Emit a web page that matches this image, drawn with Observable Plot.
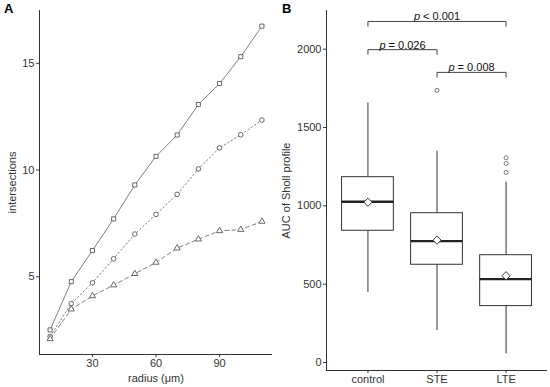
<!DOCTYPE html>
<html><head><meta charset="utf-8">
<script src="https://cdn.jsdelivr.net/npm/d3@7"></script>
<script src="https://cdn.jsdelivr.net/npm/@observablehq/plot@0.6"></script>
<style>
body{margin:0;background:#fff;font-family:"Liberation Sans",Arial,sans-serif;}
#wrap{position:relative;width:550px;height:387px;display:flex;}
.lab{position:absolute;font-weight:bold;font-size:13px;color:#000;}
</style></head><body>
<div id="wrap"><div class="lab" style="left:4px;top:1px">A</div><div class="lab" style="left:282px;top:1px">B</div><div id="pa"></div><div id="pb"></div></div>
<script>
// Panel A: Sholl intersections by radius
const radius = [10,20,30,40,50,60,70,80,90,100,110];
const controlA = [2.51,4.77,6.23,7.71,9.30,10.64,11.64,13.07,14.05,15.31,16.74];
const steA     = [2.20,3.74,4.72,5.84,7.00,7.92,8.86,10.05,11.04,11.65,12.34];
const lteA     = [2.09,3.48,4.10,4.61,5.14,5.67,6.34,6.76,7.15,7.21,7.59];
const xTicksA = [30,60,90];
const yTicksA = [5,10,15];

// Panel B: AUC of Sholl profile boxplots
const groups  = ["control","STE","LTE"];
const whiskLo = [447,204,55];
const q1      = [841,624,360];
const median  = [1026,775,532];
const q3      = [1183,953,685];
const whiskHi = [1656,1349,1151];
const means   = [1023,781,554];
const outlierGroup = ["STE","LTE","LTE","LTE"];
const outlierValue = [1737,1307,1271,1213];
const yTicksB = [0,500,1000,1500,2000];
const compFrom = ["control","control","STE"];
const compTo   = ["LTE","STE","LTE"];
const compY    = [2177,1997,1852];
const compText = ["p < 0.001","p = 0.026","p = 0.008"];

// ---- Panel A ----
const seriesA = [
  {name:"control", values:controlA},
  {name:"STE", values:steA},
  {name:"LTE", values:lteA}
];
const styleA = {control:{dash:null, sym:"square"}, STE:{dash:"1.5,2.5", sym:"circle"}, LTE:{dash:"4,3", sym:"triangle"}};
const rowsA = seriesA.flatMap(s => radius.map((r,i)=>({series:s.name, r, v:s.values[i]})));
const allA = rowsA.map(d=>d.v);
const yMinA = d3.min(allA), yMaxA = d3.max(allA);
const padA = (yMaxA-yMinA)*0.05;
const yDomA = [yMinA-padA, yMaxA+padA];
const xDomA = [d3.min(radius)-(d3.max(radius)-d3.min(radius))*0.05, d3.max(radius)+(d3.max(radius)-d3.min(radius))*0.05];

const marksA = [];
for (const s of seriesA) {
  const rows = rowsA.filter(d=>d.series===s.name);
  marksA.push(Plot.line(rows, {x:"r", y:"v", stroke:"#808080", strokeWidth:1, strokeDasharray: styleA[s.name].dash || undefined}));
}
for (const s of seriesA) {
  const rows = rowsA.filter(d=>d.series===s.name);
  marksA.push(Plot.dot(rows, {x:"r", y:"v", symbol:()=>styleA[s.name].sym, r:2.3, stroke:"#444", strokeWidth:0.8, fill:"white"}));
}
const plotA = Plot.plot({
  width:280, height:387,
  marginLeft:39, marginRight:8, marginTop:10, marginBottom:33,
  style:{fontFamily:"Liberation Sans, Arial, sans-serif", fontSize:"11px", color:"#333", background:"white"},
  x:{domain:xDomA}, y:{domain:yDomA},
  marks:[
    Plot.ruleX([xDomA[0]], {stroke:"#333", strokeWidth:1}),
    Plot.ruleY([yDomA[0]], {stroke:"#333", strokeWidth:1}),
    Plot.axisX({ticks:xTicksA, tickSize:3, tickPadding:2, label:"radius (μm)", labelAnchor:"center", labelOffset:27, labelArrow:"none", fontSize:11}),
    Plot.axisY({ticks:yTicksA, tickSize:3, tickPadding:2, label:"intersections", labelAnchor:"center", labelOffset:31, labelArrow:"none", fontSize:11}),
    ...marksA
  ]
});
document.getElementById("pa").appendChild(plotA);

// ---- Panel B ----
const idx = g => groups.indexOf(g)+1;
const boxes = groups.map((g,i)=>({g, x:i+1, lo:whiskLo[i], q1:q1[i], med:median[i], q3:q3[i], hi:whiskHi[i], mean:means[i]}));
const outs = outlierGroup.map((g,i)=>({x:idx(g), v:outlierValue[i]}));
const tick = 30;
const brackets = compFrom.flatMap((a,i)=>{
  const xa = idx(a), xb = idx(compTo[i]), y = compY[i];
  return [{k:i,x:xa,y:y-tick},{k:i,x:xa,y},{k:i,x:xb,y},{k:i,x:xb,y:y-tick}];
});
const bracketLabels = compFrom.map((a,i)=>({x:(idx(a)+idx(compTo[i]))/2, y:compY[i], t:compText[i]}));
const hw = 0.375;
const yDomB = [-51, 2247];
const xDomB = [0.4, groups.length+0.6];
const plotB = Plot.plot({
  width:270, height:387,
  marginLeft:46, marginRight:3, marginTop:10, marginBottom:17,
  style:{fontFamily:"Liberation Sans, Arial, sans-serif", fontSize:"11px", color:"#333", background:"white"},
  x:{domain:xDomB}, y:{domain:yDomB},
  marks:[
    Plot.ruleX([xDomB[0]], {stroke:"#333", strokeWidth:1}),
    Plot.ruleY([yDomB[0]], {stroke:"#333", strokeWidth:1}),
    Plot.axisX({ticks:groups.map((g,i)=>i+1), tickFormat:d=>groups[d-1], tickSize:3, tickPadding:2, label:null, fontSize:11}),
    Plot.axisY({ticks:yTicksB, tickFormat:d3.format("d"), tickSize:3, tickPadding:2, label:"AUC of Sholl profile", labelAnchor:"center", labelOffset:44, labelArrow:"none", fontSize:11}),
    Plot.ruleX(boxes, {x:"x", y1:"lo", y2:"hi", stroke:"#333", strokeWidth:1}),
    Plot.rect(boxes, {x1:d=>d.x-hw, x2:d=>d.x+hw, y1:"q1", y2:"q3", fill:"white", stroke:"#333", strokeWidth:1}),
    Plot.ruleY(boxes, {x1:d=>d.x-hw, x2:d=>d.x+hw, y:"med", stroke:"#222", strokeWidth:2.4}),
    Plot.dot(outs, {x:"x", y:"v", r:2, stroke:"#555", strokeWidth:0.8, fill:"none"}),
    Plot.dot(boxes, {x:"x", y:"mean", symbol:"diamond2", r:3.7, stroke:"#333", strokeWidth:1, fill:"white"}),
    Plot.line(brackets, {x:"x", y:"y", z:"k", stroke:"#444", strokeWidth:1}),
    Plot.text(bracketLabels, {x:"x", y:"y", text:"t", lineAnchor:"bottom", dy:-1, fontSize:11, fill:"#111", className:"plab"})
  ]
});
document.getElementById("pb").appendChild(plotB);
// italicize the leading "p"
plotB.querySelectorAll("g.plab text, .plab text").forEach(t=>{
  const s = t.textContent;
  if (!s.startsWith("p")) return;
  t.textContent = "";
  const ns = "http://www.w3.org/2000/svg";
  const a = document.createElementNS(ns,"tspan"); a.setAttribute("font-style","italic"); a.textContent="p";
  const b = document.createElementNS(ns,"tspan"); b.textContent = s.slice(1);
  t.appendChild(a); t.appendChild(b);
});
</script>
</body></html>
